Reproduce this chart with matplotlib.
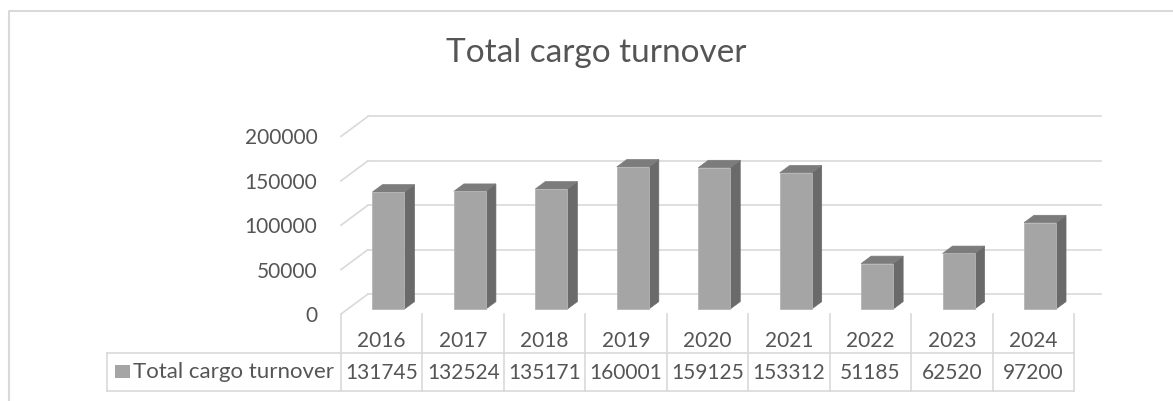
import matplotlib
matplotlib.use("Agg")
import matplotlib.pyplot as plt
from matplotlib.patches import Polygon, Rectangle
from matplotlib.lines import Line2D
from matplotlib.transforms import blended_transform_factory

# ---- data ----
categories = ["2016", "2017", "2018", "2019", "2020", "2021", "2022", "2023", "2024"]
values = [131745, 132524, 135171, 160001, 159125, 153312, 51185, 62520, 97200]
series_name = "Total cargo turnover"
title = "Total cargo turnover"
yticks = [0, 50000, 100000, 150000, 200000]

# ---- style ----
FONT = "Lato"
TXT = "#555555"
GRID = "#D9D9D9"
FRONT = "#A5A5A5"
SIDE = "#6A6A6A"
TOP = "#7C7C7C"
NUM_FS = 15
LBL_FS = 16

W, H = 1173, 401
fig = plt.figure(figsize=(W / 100, H / 100), dpi=100)
fig.patch.set_facecolor("white")


def fx(px):
    return px / W


def fy(py):
    return 1 - py / H


# front plane axes
left_px, right_px, base_px, top_px = 341, 1074, 314, 100
px_per_val = 44.4 / 50000
ax = fig.add_axes([fx(left_px), fy(base_px), (right_px - left_px) / W, (base_px - top_px) / H])
n = len(categories)
ax.set_xlim(-0.5, n - 0.5)
ax.set_ylim(0, (base_px - top_px) / px_per_val)
for s in ax.spines.values():
    s.set_visible(False)
ax.set_xticks([])
ax.set_yticks(yticks)
ax.set_yticklabels([str(v) for v in yticks], fontfamily=FONT, fontsize=NUM_FS, color=TXT)
ax.tick_params(axis="y", length=0, pad=17)
ax.patch.set_alpha(0)

ux = n / (right_px - left_px)  # data x per pixel
uy = 1 / px_per_val            # data y per pixel
DX, DY = 27 * ux, 20 * uy      # depth of the wall
f1, f2 = 0.25, 0.62            # bar front/back depth fractions
bw = 32 * ux

# gridlines: side wall slants + back wall
for v in yticks:
    ax.add_line(Line2D([-0.5, -0.5 + DX], [v, v + DY], color=GRID, lw=1.2, clip_on=False, zorder=1))
    ax.add_line(Line2D([-0.5 + DX, n - 0.5 + DX], [v + DY, v + DY], color=GRID, lw=1.2, clip_on=False, zorder=1))

# bars
for i, v in enumerate(values):
    xl = i - bw / 2
    xr = i + bw / 2
    side = Polygon([(xr + f1 * DX, f1 * DY), (xr + f2 * DX, f2 * DY),
                    (xr + f2 * DX, v + f2 * DY), (xr + f1 * DX, v + f1 * DY)],
                   closed=True, facecolor=SIDE, edgecolor=SIDE, lw=0.5, clip_on=False, zorder=3)
    top = Polygon([(xl + f1 * DX, v + f1 * DY), (xr + f1 * DX, v + f1 * DY),
                   (xr + f2 * DX, v + f2 * DY), (xl + f2 * DX, v + f2 * DY)],
                  closed=True, facecolor=TOP, edgecolor=TOP, lw=0.5, clip_on=False, zorder=3)
    ax.add_patch(side)
    ax.add_patch(top)
ax.bar([i + f1 * DX for i in range(n)], values, width=bw, bottom=f1 * DY,
       color=FRONT, edgecolor="#B5B5B5", linewidth=0.6, zorder=4, clip_on=False)

# ---- data table ----
blend = blended_transform_factory(ax.transData, fig.transFigure)
row1_top, row1_bot, row2_bot = 314, 353, 391
leg_left_px = 107
for k in range(n + 1):
    xb = k - 0.5
    fig.add_artist(Line2D([xb, xb], [fy(row1_top), fy(row2_bot)], transform=blend, color=GRID, lw=1.2))
# horizontal lines of value row
for yy in (row1_bot, row2_bot):
    fig.add_artist(Line2D([fx(leg_left_px), fx(right_px)], [fy(yy), fy(yy)],
                          transform=fig.transFigure, color=GRID, lw=1.2))
fig.add_artist(Line2D([fx(leg_left_px), fx(leg_left_px)], [fy(row1_bot), fy(row2_bot)],
                      transform=fig.transFigure, color=GRID, lw=1.2))
for i, (c, v) in enumerate(zip(categories, values)):
    ax.text(i, fy(341), c, transform=blend, ha="center", va="center",
            fontfamily=FONT, fontsize=NUM_FS, color=TXT)
    ax.text(i, fy(373), str(v), transform=blend, ha="center", va="center",
            fontfamily=FONT, fontsize=NUM_FS, color=TXT)
fig.add_artist(Rectangle((fx(115), fy(378)), 15 / W, 13 / H, transform=fig.transFigure,
                         facecolor=FRONT, edgecolor="none"))
fig.text(fx(133), fy(372), series_name, ha="left", va="center",
         fontfamily=FONT, fontsize=LBL_FS, color=TXT)

# title
fig.text(fx(596), fy(62), title, ha="center", va="baseline",
         fontfamily=FONT, fontsize=24, color=TXT)

# outer chart border
fig.add_artist(Line2D([fx(9), fx(9), fx(W + 5)], [fy(H + 5), fy(11), fy(11)],
                      transform=fig.transFigure, color=GRID, lw=1.5))

fig.savefig("out.png", dpi=100, facecolor="white")
